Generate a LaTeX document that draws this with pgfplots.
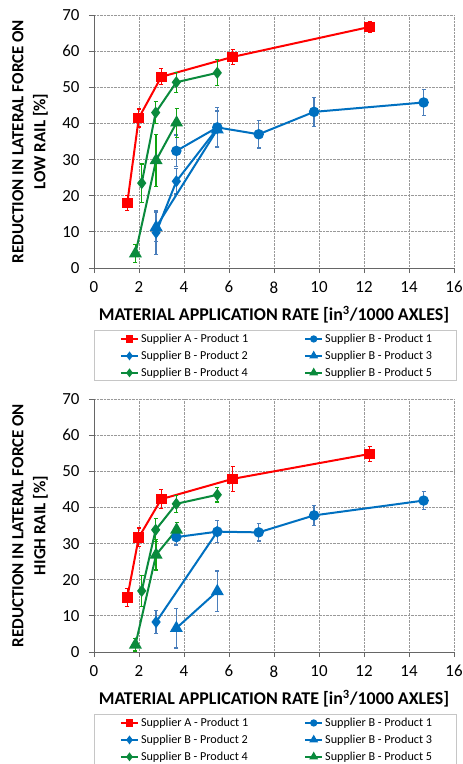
\documentclass[border=0pt]{standalone}
\usepackage{fontspec}
\setmainfont{Carlito}
\usepackage{pgfplots}
\usepackage{pgfplotstable}
\pgfplotsset{compat=1.18}
\definecolor{cred}{HTML}{FF0000}
\definecolor{cblue}{HTML}{0070C0}
\definecolor{cgreen}{HTML}{0A8A3C}
\definecolor{eblue}{HTML}{4A7EBB}
\definecolor{egreen}{HTML}{11A511}

% ---- LOW RAIL data ----
\pgfplotstableread{
x y e
1.48 18.0 2.0
1.99 41.5 2.5
2.99 52.9 2.2
6.16 58.4 2.0
12.25 66.7 1.5
}\LA
\pgfplotstableread{
x y e
3.66 32.4 4.4
5.48 38.9 5.6
7.32 37.0 3.8
9.78 43.2 4.0
14.65 45.8 3.5
}\LBa
\pgfplotstableread{
x y e
2.76 9.8 6.0
3.66 24.0 3.5
5.48 38.6 5.0
}\LBb
\pgfplotstableread{
x y e
2.76 11.3 4.0
5.48 38.3 5.0
}\LBc
\pgfplotstableread{
x y e
2.12 23.5 5.3
2.74 43.0 3.0
3.66 51.4 2.8
5.48 54.0 3.6
}\LBd
\pgfplotstableread{
x y e
1.84 4.0 2.5
2.76 29.8 7.2
3.67 40.2 4.0
}\LBe
% ---- HIGH RAIL data ----
\pgfplotstableread{
x y e
1.48 15.1 2.4
1.99 31.7 2.6
2.99 42.3 2.6
6.16 47.9 3.5
12.25 54.8 2.0
}\HA
\pgfplotstableread{
x y e
3.66 31.8 2.2
5.48 33.3 3.0
7.32 33.1 2.4
9.78 37.8 2.7
14.65 41.9 2.5
}\HBa
\pgfplotstableread{
x y e
2.76 8.3 3.1
5.48 33.3 3.0
}\HBb
\pgfplotstableread{
x y e
3.66 6.6 5.5
5.48 16.8 5.6
}\HBc
\pgfplotstableread{
x y e
2.12 16.9 4.2
2.74 33.8 3.2
3.66 41.0 2.4
5.48 43.5 2.0
}\HBd
\pgfplotstableread{
x y e
1.84 2.0 1.7
2.76 26.9 4.2
3.67 33.8 2.0
}\HBe

\pgfplotsset{
  myax/.style={
    scale only axis, width=360bp, height=253bp,
    xmin=0, xmax=16, ymin=0, ymax=70,
    xtick={0,2,...,16}, ytick={0,10,...,70},
    grid=major,
    major grid style={densely dotted, gray!80, line width=0.8bp},
    axis x line*=bottom, axis y line*=left,
    axis line style={gray!80!black, line width=0.8bp},
    tick style={gray!80!black, line width=0.8bp},
    tick align=outside, major tick length=5bp,
    /pgf/number format/assume math mode=true,
    ticklabel style={font=\fontsize{17}{18}\selectfont},
    xticklabel style={yshift=-5bp},
    yticklabel style={xshift=-6bp},
    xlabel={MATERIAL APPLICATION RATE [in\textsuperscript{3}/1000 AXLES]},
    xlabel style={at={(axis description cs:0.5,-47/253)}, anchor=center, font=\bfseries\fontsize{18}{20}\selectfont},
    ylabel style={at={(axis description cs:-64/360,0.5)}, anchor=center, align=center, font=\bfseries\fontsize{17}{22}\selectfont},
    legend columns=2,
    legend cell align=left,
    legend style={at={(axis description cs:26/360,-64/253)}, anchor=north west,
      draw=none, fill=none, inner sep=0pt, outer sep=0pt,
      font=\fontsize{12.2}{14}\selectfont,
      row sep=3bp,
      /tikz/every even column/.append style={column sep=54bp}},
  },
  sA/.style={cred, line width=2bp, mark=square*, mark size=4.3bp, mark options={solid, fill=cred}},
  sB1/.style={cblue, line width=2bp, mark=*, mark size=4.2bp, mark options={solid, fill=cblue}},
  sB2/.style={cblue, line width=2bp, mark=diamond*, mark size=4.5bp, mark options={solid, fill=cblue}},
  sB3/.style={cblue, line width=2bp, mark=triangle*, mark size=5.5bp, mark options={solid, fill=cblue}},
  sB4/.style={cgreen, line width=2bp, mark=diamond*, mark size=4.5bp, mark options={solid, fill=cgreen}},
  sB5/.style={cgreen, line width=2bp, mark=triangle*, mark size=5.5bp, mark options={solid, fill=cgreen}},
  eR/.style={error bars/y dir=both, error bars/y explicit,
    error bars/error bar style={cred, line width=1.3bp},
    error bars/error mark options={rotate=90, mark size=2bp, cred, line width=1.2bp}},
  eB/.style={error bars/y dir=both, error bars/y explicit,
    error bars/error bar style={eblue, line width=1.3bp},
    error bars/error mark options={rotate=90, mark size=2bp, eblue, line width=1.2bp}},
  eG/.style={error bars/y dir=both, error bars/y explicit,
    error bars/error bar style={egreen, line width=1.3bp},
    error bars/error mark options={rotate=90, mark size=2bp, egreen, line width=1.2bp}},
  legA/.style={cred, line width=2bp, mark=square*, mark size=2.6bp, mark options={solid, fill=cred}},
  legB1/.style={cblue, line width=2bp, mark=*, mark size=2.6bp, mark options={solid, fill=cblue}},
  legB2/.style={cblue, line width=2bp, mark=diamond*, mark size=2.8bp, mark options={solid, fill=cblue}},
  legB3/.style={cblue, line width=2bp, mark=triangle*, mark size=3.2bp, mark options={solid, fill=cblue}},
  legB4/.style={cgreen, line width=2bp, mark=diamond*, mark size=2.8bp, mark options={solid, fill=cgreen}},
  legB5/.style={cgreen, line width=2bp, mark=triangle*, mark size=3.2bp, mark options={solid, fill=cgreen}},
}

\newcommand{\legendblock}{%
  \addlegendimage{legA}\addlegendentry{Supplier A - Product 1}
  \addlegendimage{legB1}\addlegendentry{Supplier B - Product 1}
  \addlegendimage{legB2}\addlegendentry{Supplier B - Product 2}
  \addlegendimage{legB3}\addlegendentry{Supplier B - Product 3}
  \addlegendimage{legB4}\addlegendentry{Supplier B - Product 4}
  \addlegendimage{legB5}\addlegendentry{Supplier B - Product 5}
}

\begin{document}
\begin{tikzpicture}
\path[use as bounding box] (0,0) rectangle (463bp,-764bp);

\begin{axis}[myax, at={(94bp,-268bp)}, anchor=south west,
  ylabel={REDUCTION IN LATERAL FORCE ON\\LOW RAIL [\%]}]
\legendblock
\addplot[forget plot, sA, eR] table[x=x, y=y, y error=e] {\LA};
\addplot[forget plot, sB1, eB] table[x=x, y=y, y error=e] {\LBa};
\addplot[forget plot, sB2, eB] table[x=x, y=y, y error=e] {\LBb};
\addplot[forget plot, sB3, eB] table[x=x, y=y, y error=e] {\LBc};
\addplot[forget plot, sB4, eG] table[x=x, y=y, y error=e] {\LBd};
\addplot[forget plot, sB5, eG] table[x=x, y=y, y error=e] {\LBe};
\end{axis}
\draw[gray!45, line width=0.8bp] (94bp,-330bp) rectangle (456bp,-380bp);

\begin{axis}[myax, at={(94bp,-652bp)}, anchor=south west,
  ylabel={REDUCTION IN LATERAL FORCE ON\\HIGH RAIL [\%]}]
\legendblock
\addplot[forget plot, sA, eR] table[x=x, y=y, y error=e] {\HA};
\addplot[forget plot, sB1, eB] table[x=x, y=y, y error=e] {\HBa};
\addplot[forget plot, sB2, eB] table[x=x, y=y, y error=e] {\HBb};
\addplot[forget plot, sB3, eB] table[x=x, y=y, y error=e] {\HBc};
\addplot[forget plot, sB4, eG] table[x=x, y=y, y error=e] {\HBd};
\addplot[forget plot, sB5, eG] table[x=x, y=y, y error=e] {\HBe};
\end{axis}
\draw[gray!45, line width=0.8bp] (94bp,-714bp) rectangle (456bp,-766bp);
\end{tikzpicture}
\end{document}
